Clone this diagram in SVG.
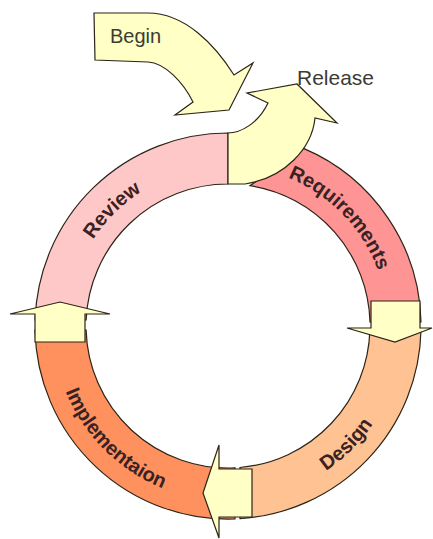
<svg xmlns="http://www.w3.org/2000/svg" width="433" height="539" viewBox="0 0 433 539">
<style>
.sh{stroke:#2b2418;stroke-width:1.2;stroke-linejoin:miter}
.yl{fill:#FFFFC6}
.lbl{font-family:"Liberation Sans",Arial,sans-serif;font-weight:bold;font-size:20px;fill:#3a2222}
.cap{font-family:"Liberation Sans",Arial,sans-serif;fill:#3c3c34}
</style>
<defs>
<path id="pReview" d="M68,326 A160,160 0 0 1 228,166"/>
<path id="pReq" d="M228,166 A160,160 0 0 1 388,326"/>
<path id="pDesign" d="M228,501 A175,175 0 0 0 403,326"/>
<path id="pImpl" d="M53,326 A175,175 0 0 0 228,501"/>
</defs>
<rect width="433" height="539" fill="#ffffff"/>
<g id="review">
<path class="sh" fill="#FFC8C8" d="M35.1,320 A193,193 0 0 1 228,133 L228,184 A142,142 0 0 0 86.1,320 Z"/>
<text class="lbl"><textPath href="#pReview" startOffset="50%" text-anchor="middle">Review</textPath></text>
</g>
<g id="requirements">
<path class="sh" fill="#FF9494" d="M303.5,148.4 A193,193 0 0 1 421,322 L370,322 A142,142 0 0 0 250,185.7 Z"/>
<text class="lbl"><textPath href="#pReq" startOffset="51%" text-anchor="middle">Requirements</textPath></text>
</g>
<g id="design">
<path class="sh" fill="#FFC393" d="M421,330 A193,193 0 0 1 240,518.6 L240,467.5 A142,142 0 0 0 369.9,330 Z"/>
<text class="lbl"><textPath href="#pDesign" startOffset="50%" text-anchor="middle">Design</textPath></text>
</g>
<g id="implementation">
<path class="sh" fill="#FF915E" d="M235,518.9 A193,193 0 0 1 35,330 L86.1,330 A142,142 0 0 0 235,467.8 Z"/>
<text class="lbl"><textPath href="#pImpl" startOffset="50%" text-anchor="middle">Implementaion</textPath></text>
</g>
<g id="release">
<path class="sh yl" d="M228,133 C240,133 258,124 268,103 L247,93 L297,84 L337,123 L315,118 C312,148 285,178 245,184 L228,184 Z"/>
<text class="cap" x="297" y="85" font-size="21">Release</text>
</g>
<g id="connectors">
<path class="sh yl" d="M35,342 L35,314 L10,314 L60,302 L110,314 L85,314 L85,342 Z"/>
<path class="sh yl" d="M371,301 L420,301 L420,328 L432,328 L395,342 L347,328 L371,328 Z"/>
<path class="sh yl" d="M252,469 L252,517 L219,517 L219,538 L203,493 L219,445 L219,469 Z"/>
</g>
<g id="begin">
<path class="sh yl" d="M94,13 L148,13 C185,13 215,45 234,75 L253,63 L229,110 L175,115 L193,102 C183,82 165,63 148,62 L95,60 Z"/>
<text class="cap" x="110" y="43" font-size="20">Begin</text>
</g>
</svg>
